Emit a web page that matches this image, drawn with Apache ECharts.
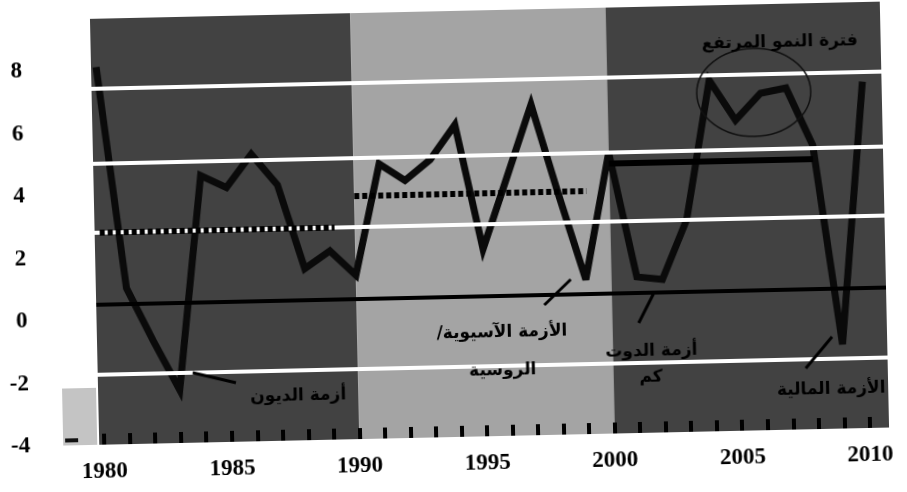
<!DOCTYPE html>
<html><head><meta charset="utf-8">
<script src="https://cdn.jsdelivr.net/npm/echarts@6.0.0/dist/echarts.min.js"></script>
<style>
html,body{margin:0;padding:0;background:#fff;overflow:hidden}
#c{width:907px;height:492px;transform:rotate(-1.25deg);transform-origin:453px 246px}
</style>
</head><body><div id="c"></div>
<script>
// ---- data ----
const years = [1980,1981,1982,1983,1984,1985,1986,1987,1988,1989,1990,1991,1992,1993,1994,1995,1996,1997,1998,1999,2000,2001,2002,2003,2004,2005,2006,2007,2008,2009,2010];
const growth = [8.1,1.0,-0.7,-2.3,4.55,4.15,5.2,4.2,1.5,2.05,1.25,4.8,4.25,4.9,6.0,2.0,4.3,6.6,3.7,0.95,5.0,1.0,0.9,2.8,7.25,5.95,6.8,6.95,5.1,-1.3,7.1];
const xTickLabels = [1980,1985,1990,1995,2000,2005,2010];
const yTickLabels = [-4,-2,0,2,4,6,8];
const bandStart = [1979.8,1990,2000];
const bandEnd = [1990,2000,2010.75];
const gridLevels = [7.4,5.0,2.8,-1.75];
const baseLevel = [0.5];
const meanStart = [1980,1990,2000];
const meanEnd = [1989.2,1999.1,2008];
const meanValue = [2.8,3.8,4.65];
const notes = ['فترة النمو المرتفع','الأزمة الآسيوية/\u200F','الروسية','أزمة الدوت','كم','أزمة الديون','الأزمة المالية'];

// ---- styles ----
const bandColors = ['#424242','#a4a4a4','#424242'];
const numFont = {fontFamily:'Liberation Serif',fontWeight:'bold',fontSize:23,color:'#000'};
const arFont = {fontFamily:'DejaVu Sans',fontWeight:'bold',fontSize:17,fill:'#000'};

const chart = echarts.init(document.getElementById('c'), null, {renderer:'canvas'});

const option = {
  animation:false,
  backgroundColor:'#fff',
  grid:{left:95,right:22,top:11,bottom:55,containLabel:false,outerBoundsMode:'none'},
  xAxis:{type:'value',min:1979.8,max:2010.75,z:6,
    axisLine:{show:false,onZero:false},splitLine:{show:false},
    axisTick:{show:true,inside:true,length:11,customValues:years,lineStyle:{color:'#000',width:4}},
    axisLabel:Object.assign({customValues:xTickLabels,margin:16,formatter:v=>String(v)},numFont)},
  yAxis:{type:'value',min:-4,max:9.65,
    axisLine:{show:false,onZero:false},axisTick:{show:false},splitLine:{show:false},
    axisLabel:Object.assign({customValues:yTickLabels,margin:69},numFont)},
  series:[
    {type:'line',data:[],z:1,silent:true,
     markArea:{silent:true,data:bandStart.map((s,i)=>[{xAxis:s,itemStyle:{color:bandColors[i],opacity:1}},{xAxis:bandEnd[i]}])}},
    {type:'line',data:[],z:2,silent:true,
     markLine:{silent:true,symbol:'none',label:{show:false},
       data:gridLevels.map(v=>({yAxis:v,lineStyle:{color:'#fff',width:4,type:'solid'}}))
         .concat(baseLevel.map(v=>({yAxis:v,lineStyle:{color:'#000',width:4,type:'solid'}})))}},
    {type:'line',data:[],z:3,silent:true,
     markLine:{silent:true,symbol:'none',label:{show:false},
       data:meanValue.map((v,i)=>[{coord:[meanStart[i],v],lineStyle:{color:'#000',width:6,type:i<2?[5,3]:'solid'}},{coord:[meanEnd[i],v]}])}},
    {type:'line',z:4,symbol:'none',silent:true,
     data:years.map((y,i)=>[y,growth[i]]),
     lineStyle:{color:'#0a0a0a',width:7,join:'miter',miterLimit:4}}
  ],
  graphic:[
    {type:'rect',shape:{x:59,y:380,width:34,height:57},style:{fill:'#c4c4c4'},z:0},
    {type:'rect',shape:{x:61,y:430,width:13,height:4},style:{fill:'#111'},z:0},
    {type:'ellipse',shape:{cx:757,cy:99,rx:57,ry:44},style:{fill:null,stroke:'#111',lineWidth:1.5},z:10},
    {type:'text',x:784,y:50,z:10,style:Object.assign({text:notes[0],align:'center',verticalAlign:'middle'},arFont)},
    {type:'text',x:500,y:334,z:10,style:Object.assign({text:notes[1],align:'center',verticalAlign:'middle'},arFont)},
    {type:'text',x:500,y:372,z:10,style:Object.assign({text:notes[2],align:'center',verticalAlign:'middle'},arFont)},
    {type:'line',shape:{x1:543,y1:307,x2:570,y2:282},style:{stroke:'#000',lineWidth:3},z:10},
    {type:'text',x:649,y:356,z:10,style:Object.assign({text:notes[3],align:'center',verticalAlign:'middle'},arFont)},
    {type:'text',x:648,y:382,z:10,style:Object.assign({text:notes[4],align:'center',verticalAlign:'middle'},arFont)},
    {type:'line',shape:{x1:637,y1:327,x2:653,y2:297},style:{stroke:'#000',lineWidth:3},z:10},
    {type:'text',x:295,y:393,z:10,style:Object.assign({text:notes[5],align:'center',verticalAlign:'middle'},arFont)},
    {type:'line',shape:{x1:190,y1:367,x2:233,y2:378},style:{stroke:'#000',lineWidth:3},z:10},
    {type:'text',x:828,y:398,z:10,style:Object.assign({text:notes[6],align:'center',verticalAlign:'middle'},arFont)},
    {type:'line',shape:{x1:803,y1:376,x2:830,y2:345},style:{stroke:'#000',lineWidth:3},z:10}
  ]
};
chart.setOption(option);
</script>
</body></html>
